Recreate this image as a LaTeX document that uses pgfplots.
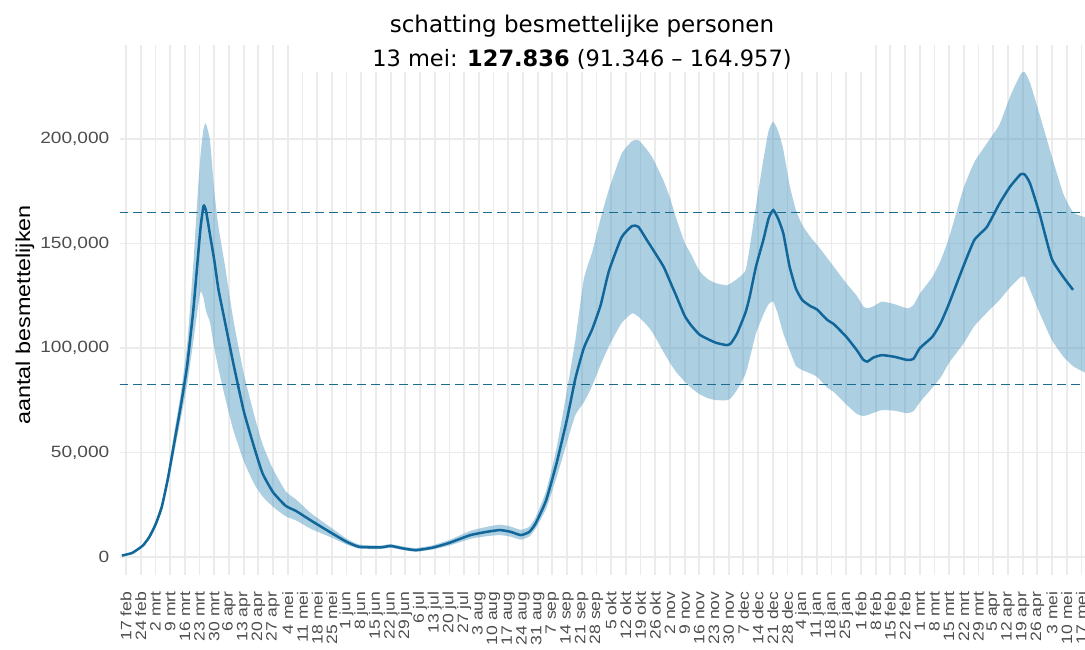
\documentclass[border=0pt]{standalone}
\usepackage{fontspec}
\setmainfont{Liberation Sans}
\newfontfamily\titlefont{DejaVu Sans}
\usepackage{pgfplots}
\pgfplotsset{compat=1.18}
\usepackage{pgfplotstable}
\usepgfplotslibrary{fillbetween}
\definecolor{lineblue}{HTML}{11679A}
\definecolor{bandblue}{HTML}{5A9FC6}
\definecolor{dashblue}{HTML}{1B6A90}
\definecolor{gridgray}{HTML}{EBEBEB}
\definecolor{tickgray}{HTML}{4D4D4D}

% day 0 = 17 feb 2020; estimate, lower and upper bound
\pgfplotstableread{
d mid lo hi
-2 700 550 850
3 2000 1700 2300
8 5500 5000 6200
11 9500 8500 10500
14 15500 14000 17000
17 24000 22000 26000
20 38000 35000 41000
23 55000 50500 60000
26 72000 66000 78000
29 91000 82000 101000
32 118000 103000 140000
34 141000 118000 172000
35.5 158000 127000 193000
36.9 168000 124000 205000
38 166000 118000 207500
40 154000 112000 199000
42 142000 100000 175000
44 128000 90000 158000
47 113000 77000 140000
51 93000 61000 114000
56 70000 46000 88000
61 52500 35000 68000
65 40000 29000 54000
70 31000 24000 42000
76 24500 19500 31500
81 22000 17500 27500
88 17500 13500 21000
97 12000 9700 14500
105 7300 6000 8800
111 4900 4000 6000
121 4600 3800 5500
126 5300 4400 6200
132 4100 3300 5000
138 3300 2500 4300
146 4500 3600 5600
154 6800 5500 8200
164 10500 8700 12500
172 12100 10000 14500
178 12900 10500 15500
183 12100 9800 14600
188 10500 8300 13000
192 12000 9800 14500
195 16000 13500 19000
200 27000 23000 31500
205 44800 38000 52000
210 66000 55000 80000
214 85500 68000 104000
218 100000 74000 133000
222 109000 82000 146000
226 120500 92000 162000
230 137000 101000 176000
236 153000 112000 193000
241 158400 116600 199000
244 158000 115000 199500
248 151700 111000 195000
251 147000 107000 190500
256 138900 98000 180000
259 132000 93000 172000
262 125000 88500 162000
266 115500 84000 150500
269 111000 81000 145000
273 106500 78000 137000
277 104300 76000 133000
281 102500 75100 131000
286 101400 75000 130000
288 102200 76000 131000
291 107000 80000 133000
295 117000 87500 137000
297 124600 95000 148000
300 139000 107000 168000
303.5 151700 116000 190000
306 162000 121000 204000
308.2 166000 122200 208300
310.5 162000 116000 204000
313 154900 107000 195000
316 139000 99000 178000
319 128500 91500 166000
322 123000 89500 159000
326 120000 87800 153000
329 118500 86300 149500
334 113400 81000 143000
337 111500 79000 139000
343 105400 73000 131000
348 99000 68500 125000
351 94500 67500 120000
353 93500 67900 119000
356 95500 69000 120000
360 96600 70300 122200
366 95800 70000 121000
372 94300 68800 119000
375 94800 69800 120500
378 99900 74000 126000
384 105400 81000 134000
388 112000 86000 142000
392 121400 93000 153000
398.7 138900 102000 176000
404 151700 110500 189000
410 158000 117000 198000
416 169200 123000 207000
421 177200 129000 220300
426 183100 134000 231000
428 183000 134000 232000
430.5 178800 128000 227000
435 164500 117000 212000
440.8 142900 104000 192000
446.3 134100 96000 174000
451 127836 91346 164957
456 124000 88600 162800
462 120000 86000 161000
}\besm

\begin{document}
\begin{tikzpicture}
\begin{axis}[
  at={(0pt,0pt)}, anchor=south west,
  width=965pt, height=530pt, scale only axis,
  xmin=-2.9, xmax=456.7, ymin=-8600, ymax=245000,
  axis line style={draw=none}, major tick length=0pt,
  grid=major, grid style={gridgray, line width=1.8pt},
  scaled y ticks=false,
  xtick={0,7,...,455},
  xticklabels={17 feb,24 feb,2 mrt,9 mrt,16 mrt,23 mrt,30 mrt,6 apr,13 apr,20 apr,27 apr,4 mei,11 mei,18 mei,25 mei,1 jun,8 jun,15 jun,22 jun,29 jun,6 jul,13 jul,20 jul,27 jul,3 aug,10 aug,17 aug,24 aug,31 aug,7 sep,14 sep,21 sep,28 sep,5 okt,12 okt,19 okt,26 okt,2 nov,9 nov,16 nov,23 nov,30 nov,7 dec,14 dec,21 dec,28 dec,4 jan,11 jan,18 jan,25 jan,1 feb,8 feb,15 feb,22 feb,1 mrt,8 mrt,15 mrt,22 mrt,29 mrt,5 apr,12 apr,19 apr,26 apr,3 mei,10 mei,17 mei},
  ytick={0,50000,100000,150000,200000},
  yticklabels={0,{50,000},{100,000},{150,000},{200,000}},
  xticklabel style={font=\fontsize{15}{15}\selectfont, text=tickgray, rotate=90, xscale=1.17, anchor=east, inner xsep=14pt, inner ysep=0pt},
  yticklabel style={font=\fontsize{16.3}{16.3}\selectfont, text=tickgray, xscale=1.17, anchor=east, inner xsep=9pt},
]
\addplot[name path=hi, draw=none, forget plot, smooth, tension=0.3] table[x=d, y=hi] {\besm};
\addplot[name path=lo, draw=none, forget plot, smooth, tension=0.3] table[x=d, y=lo] {\besm};
\addplot[bandblue, fill opacity=0.5, draw=none] fill between[of=hi and lo];
\addplot[dashblue, line width=1.3pt, dash pattern=on 9pt off 5pt] coordinates {(-10,164957) (470,164957)};
\addplot[dashblue, line width=1.3pt, dash pattern=on 9pt off 5pt] coordinates {(-10,82478) (470,82478)};
\addplot[lineblue, line width=2.5pt, smooth, tension=0.3, restrict x to domain=-5:451.5] table[x=d, y=mid] {\besm};
\end{axis}
% title block over the grid
\fill[white] (170pt,503pt) rectangle (745pt,580pt);
\node[font=\titlefont\fontsize{23}{24}\selectfont, anchor=base] at (462pt,542pt) {schatting besmettelijke personen};
\node[font=\titlefont\fontsize{22.5}{24}\selectfont, anchor=base] at (462pt,508pt) {13 mei: \textbf{127.836} (91.346 – 164.957)};
\node[font=\fontsize{20}{20}\selectfont, rotate=90, xscale=1.17] at (-95pt,260pt) {aantal besmettelijken};
\pgfresetboundingbox
\useasboundingbox (-120pt,-74pt) rectangle (965pt,575pt);
\end{tikzpicture}
\end{document}
